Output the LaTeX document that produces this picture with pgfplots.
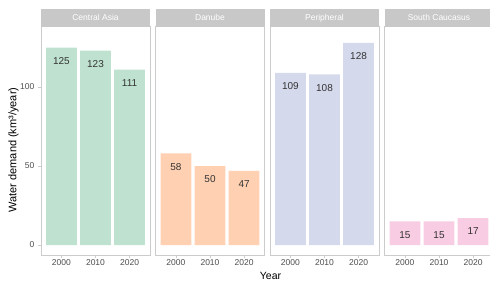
\documentclass[border=0pt]{standalone}
\usepackage{fontspec}
\setmainfont{Liberation Sans}
\usepackage{pgfplots}
\pgfplotsset{compat=1.18}
\definecolor{cA}{RGB}{190,226,207}
\definecolor{cB}{RGB}{255,208,177}
\definecolor{cC}{RGB}{213,217,236}
\definecolor{cD}{RGB}{248,204,226}
\definecolor{bord}{RGB}{204,204,204}
\definecolor{stripc}{RGB}{200,200,200}
\definecolor{tickc}{RGB}{77,77,77}
\pgfplotsset{panel/.style={
  at={(#1pt,26.7pt)}, anchor=south west, scale only axis,
  width=109pt, height=228.6pt,
  xmin=0.4, xmax=3.6, ymin=-6.5, ymax=138.2,
  xtick={1,2,3}, xticklabels={2000,2010,2020},
  axis line style={draw=bord, line width=0.8pt},
  tick style={draw=bord, line width=0.6pt},
  major tick length=3pt, tick align=outside,
  xtick pos=bottom, ytick pos=left,
  ytick=\empty,
  ticklabel style={font=\fontsize{8.5}{10}\selectfont, text=tickc},
  xticklabel style={anchor=center, yshift=-4.4pt},
  yticklabel style={anchor=east, inner sep=0pt, xshift=-3.5pt},
  /pgf/number format/assume math mode=true,
  ybar, bar width=0.9,
  nodes near coords,
  every node near coord/.append style={anchor=center, yshift=-13.3pt,
    font=\fontsize{10}{12}\selectfont, text=black!80},
}}
\newcommand{\strip}[2]{%
  \fill[stripc] (#1.north west) rectangle ([yshift=17.7pt]#1.north east);
  \node[text=white, font=\fontsize{8.5}{10}\selectfont] at ([yshift=8.85pt]#1.north) {#2};
}
\begin{document}
\begin{tikzpicture}
\begin{axis}[panel=41, name=p1, ytick={0,50,100}]
\addplot[fill=cA, draw=none] coordinates {(1,125) (2,123) (3,111)};
\end{axis}
\strip{p1}{Central Asia}
\begin{axis}[panel=155.5, name=p2]
\addplot[fill=cB, draw=none] coordinates {(1,58) (2,50) (3,47)};
\end{axis}
\strip{p2}{Danube}
\begin{axis}[panel=270, name=p3]
\addplot[fill=cC, draw=none] coordinates {(1,109) (2,108) (3,128)};
\end{axis}
\strip{p3}{Peripheral}
\begin{axis}[panel=384.5, name=p4]
\addplot[fill=cD, draw=none] coordinates {(1,15) (2,15) (3,17)};
\end{axis}
\strip{p4}{South Caucasus}
\node[rotate=90, font=\fontsize{11}{13}\selectfont] at (13.5pt,132pt) {Water demand (km³/year)};
\node[font=\fontsize{10.5}{12}\selectfont] at (270.5pt,6pt) {Year};
\pgfresetboundingbox
\useasboundingbox (0,0) rectangle (490pt,282pt);
\end{tikzpicture}
\end{document}
